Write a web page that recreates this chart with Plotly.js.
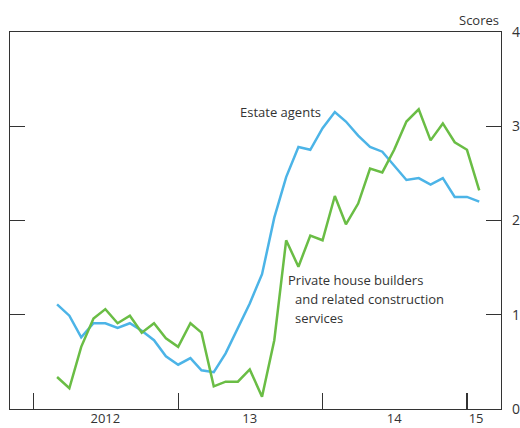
<!DOCTYPE html>
<html>
<head>
<meta charset="utf-8">
<script src="https://cdn.plot.ly/plotly-3.0.1.min.js"></script>
<style>
html,body{margin:0;padding:0;background:#fff;}
#chart{width:520px;height:428px;}
</style>
</head>
<body>
<div id="chart"></div>
<script>
// Monthly dates, March 2012 to February 2015
var months = [
  "2012-03-01","2012-04-01","2012-05-01","2012-06-01","2012-07-01","2012-08-01",
  "2012-09-01","2012-10-01","2012-11-01","2012-12-01","2013-01-01","2013-02-01",
  "2013-03-01","2013-04-01","2013-05-01","2013-06-01","2013-07-01","2013-08-01",
  "2013-09-01","2013-10-01","2013-11-01","2013-12-01","2014-01-01","2014-02-01",
  "2014-03-01","2014-04-01","2014-05-01","2014-06-01","2014-07-01","2014-08-01",
  "2014-09-01","2014-10-01","2014-11-01","2014-12-01","2015-01-01","2015-02-01"
];
var estateAgents = [
  1.11, 0.99, 0.76, 0.91, 0.91, 0.86, 0.91, 0.83, 0.73, 0.56, 0.47, 0.54,
  0.41, 0.39, 0.59, 0.86, 1.12, 1.43, 2.03, 2.46, 2.78, 2.75, 2.98, 3.15,
  3.05, 2.90, 2.78, 2.73, 2.58, 2.43, 2.45, 2.38, 2.45, 2.25, 2.25, 2.20
];
var houseBuilders = [
  0.34, 0.22, 0.66, 0.96, 1.06, 0.91, 0.99, 0.81, 0.91, 0.75, 0.66, 0.91,
  0.81, 0.24, 0.29, 0.29, 0.42, 0.13, 0.73, 1.79, 1.51, 1.84, 1.79, 2.26,
  1.96, 2.18, 2.55, 2.51, 2.75, 3.05, 3.18, 2.85, 3.03, 2.83, 2.75, 2.32
];
var yearTicks = ["2012-01-01","2013-01-01","2014-01-01","2015-01-01"];
var yearLabelPos = ["2012-07-01","2013-07-01","2014-07-01","2015-01-24"];
var yearLabels = ["2012","13","14","15"];
var yTicks = [0,1,2,3,4];

var FONT = "'Open Sans', 'Noto Sans', sans-serif";
var TXT = "#333333";
var AX = "#333333";
var xRange = ["2011-11-03","2015-03-28"];

var traces = [
  {x: months, y: estateAgents, type: "scatter", mode: "lines", name: "Estate agents",
   line: {color: "#4cb4e7", width: 2.5}, xaxis: "x", yaxis: "y", hoverinfo: "skip"},
  {x: months, y: houseBuilders, type: "scatter", mode: "lines", name: "Private house builders and related construction services",
   line: {color: "#6abd45", width: 2.5}, xaxis: "x", yaxis: "y", hoverinfo: "skip"}
];

var layout = {
  width: 520, height: 428,
  margin: {l: 10, r: 19, t: 32, b: 19, pad: 0},
  paper_bgcolor: "#fff", plot_bgcolor: "#fff",
  showlegend: false,
  font: {family: FONT, size: 13, color: TXT},
  xaxis: {
    type: "date", range: xRange,
    tickmode: "array", tickvals: yearTicks, showticklabels: false,
    ticks: "inside", ticklen: 16, tickcolor: AX, tickwidth: 1.2,
    showline: true, linecolor: AX, linewidth: 1.2, mirror: true,
    showgrid: false, zeroline: false, fixedrange: true
  },
  xaxis2: {
    type: "date", range: xRange, overlaying: "x", anchor: "y", side: "bottom",
    tickmode: "array", tickvals: yearLabelPos, ticktext: yearLabels,
    ticks: "", showline: false, showgrid: false, zeroline: false,
    tickfont: {family: FONT, size: 13, color: TXT}, fixedrange: true
  },
  yaxis: {
    range: [0, 4], side: "right",
    tickmode: "array", tickvals: yTicks,
    ticks: "inside", ticklen: 15, tickcolor: AX, tickwidth: 1.2,
    showline: true, linecolor: AX, linewidth: 1.2, mirror: "ticks",
    showgrid: false, zeroline: false, ticklabelstandoff: 7,
    tickfont: {family: FONT, size: 14, color: TXT}, fixedrange: true
  },
  annotations: [
    {text: "Scores", xref: "paper", yref: "paper", x: 1.0, y: 1.0318,
     xanchor: "right", yanchor: "middle", showarrow: false,
     font: {family: FONT, size: 13, color: TXT}},
    {text: "Estate agents", xref: "paper", yref: "paper", x: 0.4637, y: 0.787,
     xanchor: "left", yanchor: "middle", showarrow: false,
     font: {family: FONT, size: 13, color: TXT}},
    {text: "Private house builders", xref: "paper", yref: "paper", x: 0.562, y: 0.342,
     xanchor: "left", yanchor: "middle", showarrow: false,
     font: {family: FONT, size: 13, color: TXT}},
    {text: "and related construction", xref: "paper", yref: "paper", x: 0.5757, y: 0.291,
     xanchor: "left", yanchor: "middle", showarrow: false,
     font: {family: FONT, size: 13, color: TXT}},
    {text: "services", xref: "paper", yref: "paper", x: 0.5757, y: 0.2406,
     xanchor: "left", yanchor: "middle", showarrow: false,
     font: {family: FONT, size: 13, color: TXT}}
  ]
};

// empty trace so that the label axis (xaxis2) is drawn
traces.push({x: [], y: [], type: "scatter", mode: "lines", xaxis: "x2", yaxis: "y", hoverinfo: "skip", showlegend: false});

Plotly.newPlot("chart", traces, layout, {staticPlot: true, displayModeBar: false});
</script>
</body>
</html>
